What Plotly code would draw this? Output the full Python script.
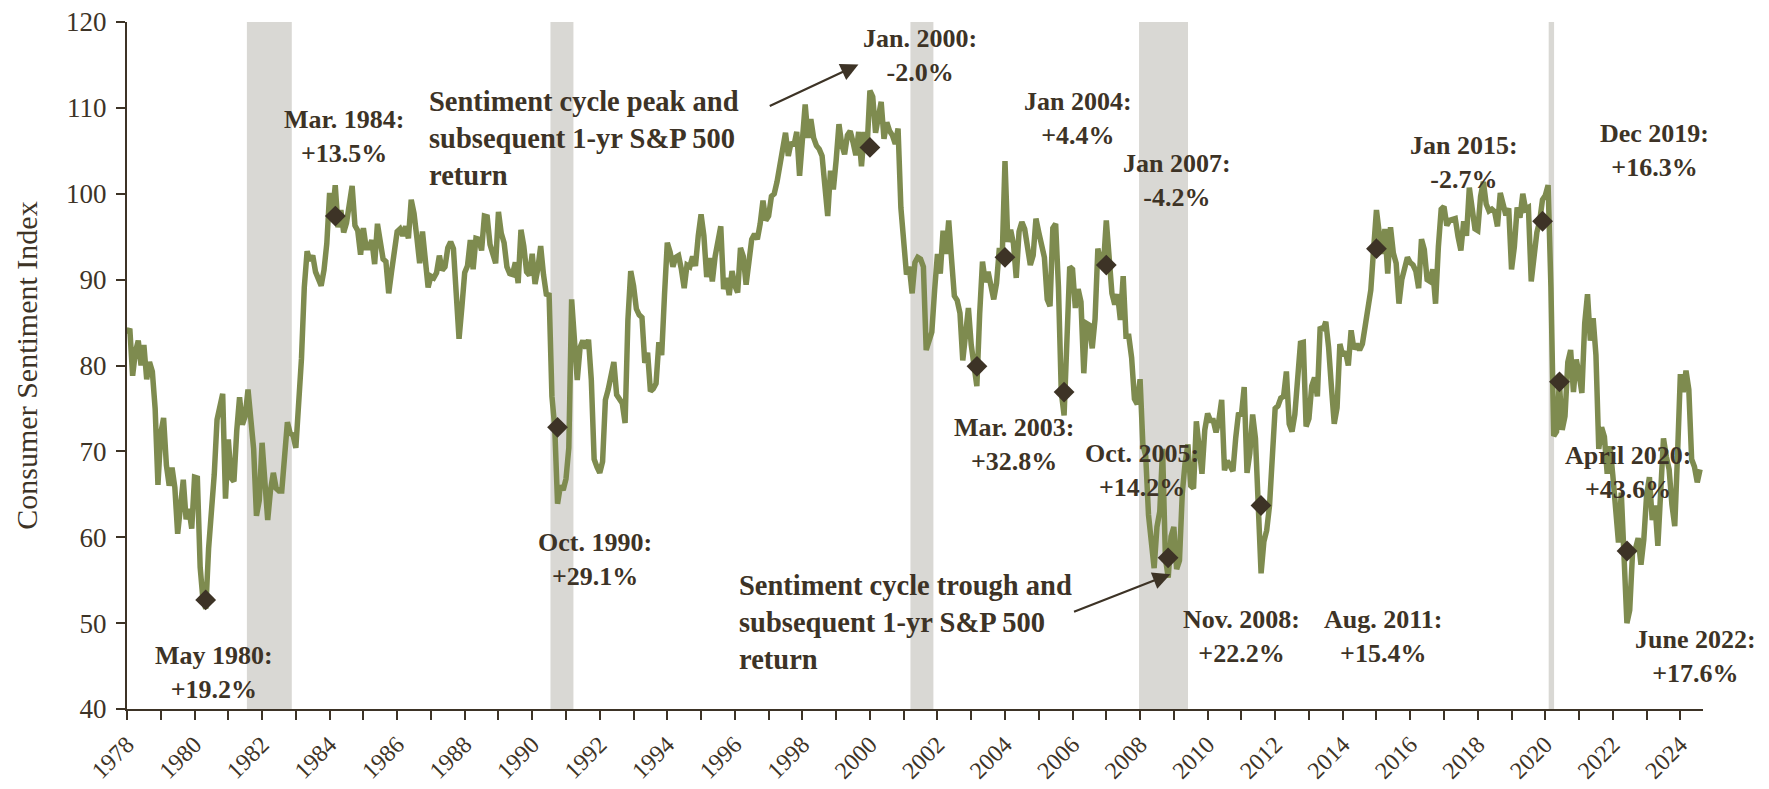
import plotly.graph_objects as go

# ---------------- data ----------------
start_year = 1978  # monthly series, Jan 1978 .. Aug 2024
sentiment = [
    83.7, 84.3, 78.8, 81.6, 82.9, 80.0, 82.4, 78.4, 80.4, 79.3, 75.0, 66.1,   # 1978
    72.1, 73.9, 68.4, 66.0, 68.1, 65.8, 60.4, 64.5, 66.7, 62.1, 63.3, 61.0,   # 1979
    67.0, 66.9, 56.5, 52.7, 51.7, 58.7, 62.3, 67.3, 73.7, 75.0, 76.7, 64.5,   # 1980
    71.4, 66.9, 66.5, 72.4, 76.3, 73.1, 74.1, 77.2, 73.1, 70.3, 62.5, 64.3,   # 1981
    71.0, 66.5, 62.0, 65.5, 67.5, 65.7, 65.4, 65.4, 69.3, 73.4, 72.1, 71.9,   # 1982
    70.4, 74.6, 80.8, 89.1, 93.3, 92.2, 92.8, 90.9, 89.9, 89.3, 91.1, 94.2,   # 1983
    100.1, 97.4, 101.0, 96.1, 98.1, 95.5, 96.6, 99.1, 100.9, 96.3, 95.7, 92.9,  # 1984
    96.0, 93.7, 93.7, 94.6, 91.8, 96.5, 94.0, 92.4, 92.1, 88.4, 90.9, 93.9,   # 1985
    95.6, 95.9, 95.1, 96.2, 94.8, 99.3, 97.7, 94.9, 91.9, 95.6, 91.4, 89.1,   # 1986
    90.4, 90.2, 90.8, 92.8, 91.1, 91.5, 93.7, 94.4, 93.6, 89.3, 83.1, 86.8,   # 1987
    90.8, 91.6, 94.6, 91.2, 94.8, 94.7, 93.4, 97.4, 97.3, 94.1, 93.0, 91.9,   # 1988
    97.9, 95.4, 94.3, 91.5, 90.7, 90.6, 92.0, 89.6, 95.8, 93.9, 90.9, 90.5,   # 1989
    93.0, 89.5, 91.3, 93.9, 90.6, 88.3, 88.2, 76.4, 72.8, 63.9, 66.0, 65.5,   # 1990
    66.8, 70.4, 87.7, 81.8, 78.3, 82.1, 82.9, 82.0, 83.0, 78.3, 69.1, 68.2,   # 1991
    67.5, 68.8, 76.0, 77.2, 79.2, 80.4, 76.6, 76.1, 75.6, 73.3, 85.3, 91.0,   # 1992
    89.3, 86.6, 85.9, 85.6, 80.3, 81.5, 77.0, 77.3, 77.9, 82.7, 81.2, 88.2,   # 1993
    94.3, 93.2, 91.5, 92.6, 92.8, 91.2, 89.0, 91.7, 91.5, 92.7, 91.6, 95.1,   # 1994
    97.6, 95.1, 90.3, 92.5, 89.8, 92.7, 94.4, 96.2, 88.9, 90.2, 88.2, 91.0,   # 1995
    89.3, 88.5, 93.7, 92.7, 89.4, 92.4, 94.7, 95.3, 94.7, 96.5, 99.2, 96.9,   # 1996
    97.4, 99.7, 100.0, 101.4, 103.2, 104.5, 107.1, 104.4, 106.0, 105.6, 107.2, 102.1,  # 1997
    106.6, 110.4, 106.5, 108.7, 106.5, 105.6, 105.2, 104.4, 100.9, 97.4, 102.7, 100.5,  # 1998
    103.9, 108.1, 105.7, 104.6, 106.8, 107.3, 106.0, 104.5, 107.2, 103.2, 107.2, 105.4,  # 1999
    112.0, 111.3, 107.1, 109.2, 110.7, 106.4, 108.3, 107.3, 106.8, 105.8, 107.6, 98.4,  # 2000
    94.7, 90.6, 91.5, 88.4, 92.0, 92.6, 92.4, 91.5, 81.8, 82.7, 83.9, 88.8,   # 2001
    93.0, 90.7, 95.7, 93.0, 96.9, 92.4, 88.1, 87.6, 86.1, 80.6, 84.2, 86.7,   # 2002
    82.4, 79.9, 77.6, 86.0, 92.1, 89.7, 90.9, 89.3, 87.7, 89.6, 93.7, 92.6,   # 2003
    103.8, 94.4, 95.8, 94.2, 90.2, 95.6, 96.7, 95.9, 94.2, 91.7, 92.8, 97.1,  # 2004
    95.5, 94.1, 92.6, 87.7, 86.9, 96.0, 96.5, 89.1, 76.9, 74.2, 81.6, 91.5,   # 2005
    91.2, 86.7, 88.9, 87.4, 79.1, 84.9, 84.7, 82.0, 85.4, 93.6, 92.1, 91.7,   # 2006
    96.9, 91.3, 88.4, 87.1, 88.3, 85.3, 90.4, 83.4, 83.4, 80.9, 76.1, 75.5,   # 2007
    78.4, 70.8, 69.5, 62.6, 59.8, 56.4, 61.2, 63.0, 70.3, 57.6, 55.3, 60.1,   # 2008
    61.2, 56.3, 57.3, 65.1, 68.7, 70.8, 66.0, 65.7, 73.5, 70.6, 67.4, 72.5,   # 2009
    74.4, 73.6, 73.6, 72.2, 73.6, 76.0, 67.8, 68.9, 68.2, 67.7, 71.6, 74.5,   # 2010
    74.2, 77.5, 67.5, 69.8, 74.3, 71.5, 63.7, 55.8, 59.5, 60.8, 63.7, 69.9,   # 2011
    75.0, 75.3, 76.2, 76.4, 79.3, 73.2, 72.3, 74.3, 78.3, 82.6, 82.7, 72.9,   # 2012
    73.8, 77.6, 78.6, 76.4, 84.5, 84.1, 85.1, 82.1, 77.5, 73.2, 75.1, 82.5,   # 2013
    81.2, 81.6, 80.0, 84.1, 81.9, 82.5, 81.8, 82.5, 84.6, 86.9, 88.8, 93.6,   # 2014
    98.1, 95.4, 93.0, 95.9, 90.7, 96.1, 93.1, 91.9, 87.2, 90.0, 91.3, 92.6,   # 2015
    92.0, 91.7, 91.0, 89.0, 94.7, 93.5, 90.0, 89.8, 91.2, 87.2, 93.8, 98.2,   # 2016
    98.5, 96.3, 96.9, 97.0, 97.1, 95.0, 93.4, 96.8, 95.1, 100.7, 98.5, 95.9,  # 2017
    95.7, 99.7, 101.4, 98.8, 98.0, 98.2, 97.9, 96.2, 100.1, 98.6, 97.5, 98.3, # 2018
    91.2, 93.8, 98.4, 97.2, 100.0, 98.2, 98.4, 89.8, 93.2, 95.5, 96.8, 99.3,  # 2019
    99.8, 101.0, 89.1, 71.8, 72.3, 78.1, 72.5, 74.1, 80.4, 81.8, 76.9, 80.7,  # 2020
    79.0, 76.8, 84.9, 88.3, 82.9, 85.5, 81.2, 70.3, 72.8, 71.7, 67.4, 70.6,   # 2021
    67.2, 62.8, 59.4, 65.2, 58.4, 50.0, 51.5, 58.2, 58.6, 59.9, 56.8, 59.7,   # 2022
    64.9, 67.0, 62.0, 63.7, 59.0, 64.2, 71.5, 69.4, 67.9, 63.8, 61.3, 69.7,   # 2023
    79.0, 76.9, 79.4, 77.2, 69.1, 68.2, 66.4, 67.9,                           # 2024
]

recession_start = [1981.55, 1990.54, 2001.20, 2007.97, 2020.10]
recession_end = [1982.88, 1991.22, 2001.88, 2009.42, 2020.26]

marker_dates = [1980.33, 1984.17, 1990.75, 2000.00, 2003.17, 2004.00, 2005.75,
                2007.00, 2008.83, 2011.58, 2015.00, 2019.92, 2020.42, 2022.42]
marker_values = [52.7, 97.4, 72.8, 105.4, 79.9, 92.6, 76.9,
                 91.7, 57.6, 63.7, 93.6, 96.8, 78.1, 58.4]
marker_labels = ["May 1980:", "Mar. 1984:", "Oct. 1990:", "Jan. 2000:", "Mar. 2003:",
                 "Jan 2004:", "Oct. 2005:", "Jan 2007:", "Nov. 2008:", "Aug. 2011:",
                 "Jan 2015:", "Dec 2019:", "April 2020:", "June 2022:"]
marker_returns = ["+19.2%", "+13.5%", "+29.1%", "-2.0%", "+32.8%", "+4.4%", "+14.2%",
                  "-4.2%", "+22.2%", "+15.4%", "-2.7%", "+16.3%", "+43.6%", "+17.6%"]

x_tick_years = list(range(1978, 2025, 2))
x_tick_labels = [str(y) for y in x_tick_years]
y_tick_values = [40, 50, 60, 70, 80, 90, 100, 110, 120]

peak_note = "Sentiment cycle peak and<br>subsequent 1-yr S&P 500<br>return"
trough_note = "Sentiment cycle trough and<br>subsequent 1-yr S&P 500<br>return"

# ---------------- layout / style ----------------
TEXT = "#3d3326"
LINE = "#7e8b4f"
SHADE = "#d9d8d4"
FONT = "Liberation Serif"

# label placement (data coordinates of each label block's centre)
label_positions = [(1980.58, 44.3), (1984.44, 106.7), (1991.86, 57.4), (2001.48, 116.1),
                   (2004.27, 70.85), (2006.15, 108.75), (2008.07, 67.8), (2009.08, 101.6),
                   (2011.00, 48.45), (2015.20, 48.45), (2017.58, 103.6), (2023.24, 105.0),
                   (2022.45, 67.5), (2024.46, 46.1)]

x_dates = [start_year + i / 12 for i in range(len(sentiment))]

fig = go.Figure()

fig.add_trace(go.Scatter(
    x=x_dates, y=sentiment, mode="lines",
    line=dict(color=LINE, width=5.5), hoverinfo="skip", showlegend=False,
))
fig.add_trace(go.Scatter(
    x=marker_dates, y=marker_values, mode="markers",
    marker=dict(symbol="diamond", size=16, color=TEXT, line=dict(width=0)),
    showlegend=False,
))

for x0, x1 in zip(recession_start, recession_end):
    fig.add_shape(type="rect", xref="x", yref="y", x0=x0, x1=x1, y0=40, y1=120,
                  fillcolor=SHADE, line=dict(width=0), layer="below")

annotations = []
for (lx, ly), lab, ret in zip(label_positions, marker_labels, marker_returns):
    annotations.append(dict(
        x=lx, y=ly, xref="x", yref="y", text=f"<b>{lab}<br>{ret}</b>",
        showarrow=False, xanchor="center", yanchor="middle", align="center",
        font=dict(family=FONT, size=26, color=TEXT),
    ))

annotations.append(dict(
    x=1986.89, y=106.4, xref="x", yref="y", text=f"<b>{peak_note}</b>",
    showarrow=False, xanchor="left", yanchor="middle", align="left",
    font=dict(family=FONT, size=28.5, color=TEXT),
))
annotations.append(dict(
    x=1996.06, y=50.1, xref="x", yref="y", text=f"<b>{trough_note}</b>",
    showarrow=False, xanchor="left", yanchor="middle", align="left",
    font=dict(family=FONT, size=28.5, color=TEXT),
))
# arrows
annotations.append(dict(
    x=1999.66, y=115.04, ax=1996.99, ay=110.15, xref="x", yref="y", axref="x", ayref="y",
    text="", showarrow=True, arrowhead=2, arrowsize=1.6, arrowwidth=2.2, arrowcolor=TEXT,
    standoff=0, startstandoff=0,
))
annotations.append(dict(
    x=2008.9, y=55.7, ax=2006.0, ay=51.25, xref="x", yref="y", axref="x", ayref="y",
    text="", showarrow=True, arrowhead=2, arrowsize=1.6, arrowwidth=2.2, arrowcolor=TEXT,
    standoff=0, startstandoff=0,
))

# page body has an 8px margin, so the figure is sized to fit the window exactly
fig.update_layout(
    width=1761, height=781,
    margin=dict(l=119, r=66, t=14, b=80),
    plot_bgcolor="white", paper_bgcolor="white",
    showlegend=False,
    font=dict(family=FONT, color=TEXT, size=26),
    annotations=annotations,
)

fig.update_xaxes(
    range=[1978, 2024.67], tickmode="array", tickvals=x_tick_years, ticktext=x_tick_labels,
    tickangle=-45, ticks="outside", ticklen=9, tickwidth=2, tickcolor=TEXT,
    minor=dict(tickmode="array", tickvals=[y + 1 for y in x_tick_years[:-1]],
               ticks="outside", ticklen=9, tickwidth=2, tickcolor=TEXT),
    showline=True, linecolor=TEXT, linewidth=2, showgrid=False, zeroline=False,
    tickfont=dict(family=FONT, size=24, color=TEXT), ticklabelstandoff=1,
    ticklabeloverflow="allow", automargin=False,
)
fig.update_yaxes(
    range=[40, 120], tickmode="array", tickvals=y_tick_values,
    ticks="outside", ticklen=9, tickwidth=2, tickcolor=TEXT,
    showline=True, linecolor=TEXT, linewidth=2, showgrid=False, zeroline=False,
    tickfont=dict(family=FONT, size=27, color=TEXT), ticklabelstandoff=4,
    ticklabeloverflow="allow",
    title=dict(text="Consumer Sentiment Index", font=dict(family=FONT, size=30, color=TEXT),
               standoff=20),
    automargin=False,
)

fig.write_html("out.html")
